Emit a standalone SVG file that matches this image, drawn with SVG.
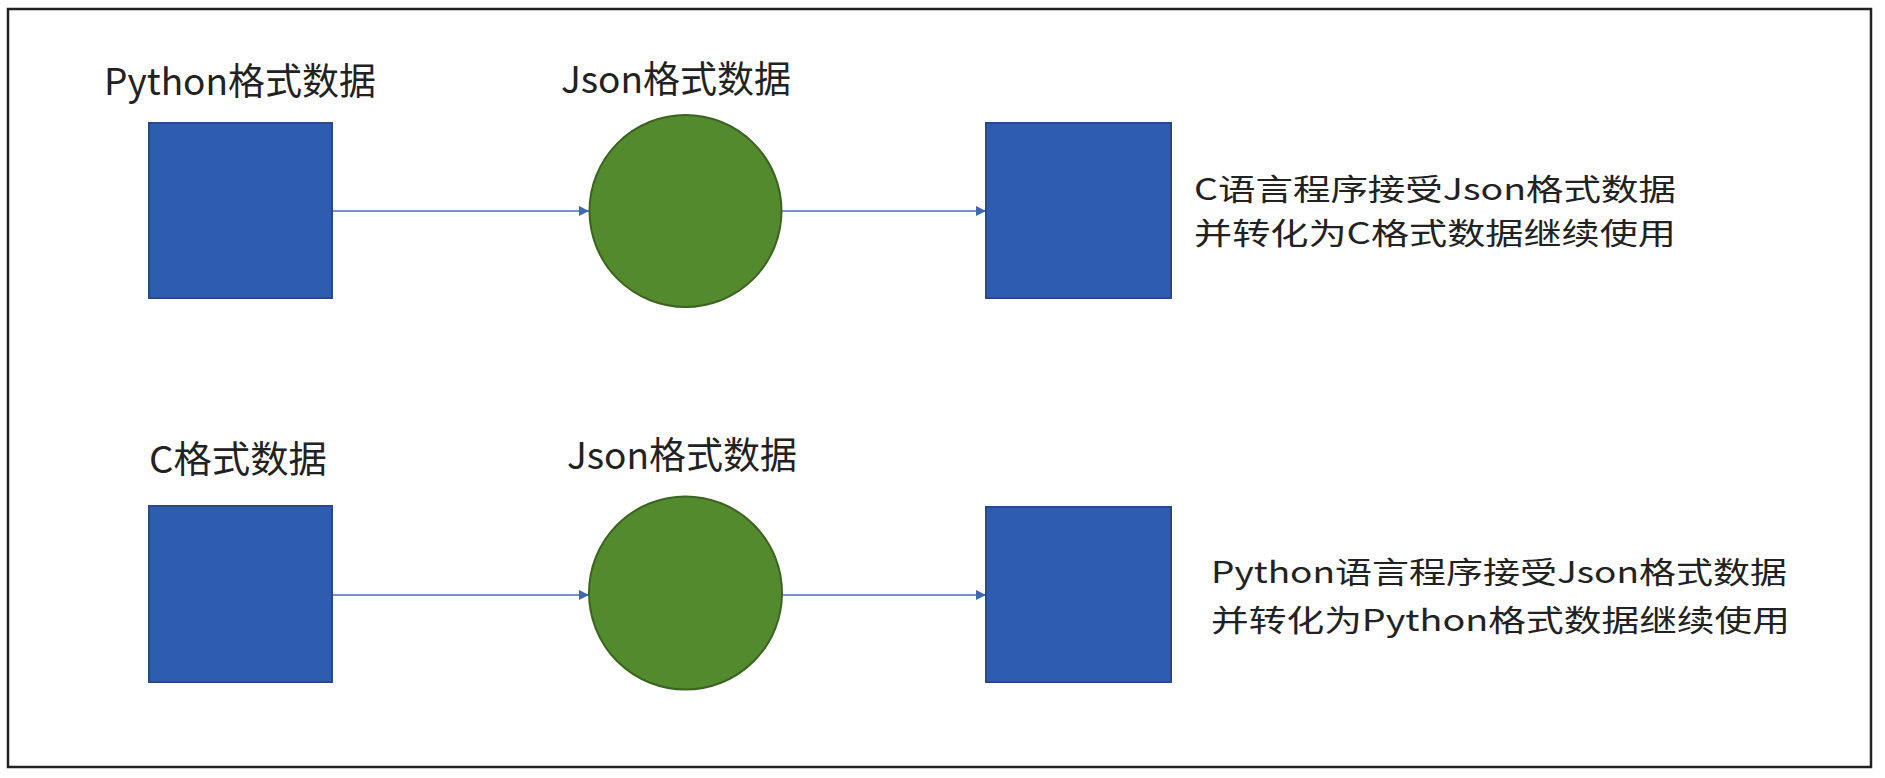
<svg xmlns="http://www.w3.org/2000/svg" width="1885" height="778" viewBox="0 0 1885 778">
  <defs>
    <marker id="arrow" viewBox="0 0 10 10" refX="10" refY="5" markerWidth="10" markerHeight="10" markerUnits="userSpaceOnUse" orient="auto">
      <path d="M0,0 L10,5 L0,10 z" fill="#3F66B0"/>
    </marker>
    <style>
      .box { fill: #2E5DB0; stroke: #284A88; stroke-width: 2; }
      .circ { fill: #548A2E; stroke: #3B6420; stroke-width: 2; }
      .lbl { font-family: "Noto Sans CJK SC", "Noto Sans", sans-serif; font-size: 37px; fill: #222222; }
      .desc { font-family: "Noto Sans CJK SC", "Noto Sans", sans-serif; font-size: 30px; fill: #222222; }
      .conn { stroke: #4A70B8; stroke-width: 1.6; fill: none; marker-end: url(#arrow); }
    </style>
  </defs>
  <rect x="0" y="0" width="1885" height="778" fill="#ffffff"/>
  <rect x="8" y="9" width="1863" height="758" fill="#ffffff" stroke="#222222" stroke-width="2.5"/>

  <g id="connectors">
    <line class="conn" x1="333" y1="211" x2="589" y2="211"/>
    <line class="conn" x1="782" y1="211" x2="986" y2="211"/>
    <line class="conn" x1="333" y1="595" x2="589" y2="595"/>
    <line class="conn" x1="782" y1="595" x2="986" y2="595"/>
  </g>

  <g id="python-data">
    <text class="lbl" x="104" y="95">Python格式数据</text>
    <rect class="box" x="149" y="123" width="183" height="175"/>
  </g>
  <g id="json-data-top">
    <text class="lbl" x="561" y="93">Json格式数据</text>
    <circle class="circ" cx="685.5" cy="211" r="96"/>
  </g>
  <g id="c-program">
    <rect class="box" x="986" y="123" width="185" height="175"/>
    <text class="desc" x="1194" y="200" textLength="482" lengthAdjust="spacingAndGlyphs">C语言程序接受Json格式数据</text>
    <text class="desc" x="1194" y="244" textLength="482" lengthAdjust="spacingAndGlyphs">并转化为C格式数据继续使用</text>
  </g>

  <g id="c-data">
    <text class="lbl" x="149" y="473" textLength="178" lengthAdjust="spacingAndGlyphs">C格式数据</text>
    <rect class="box" x="149" y="506" width="183" height="176"/>
  </g>
  <g id="json-data-bottom">
    <text class="lbl" x="567" y="469">Json格式数据</text>
    <circle class="circ" cx="685.5" cy="593" r="96.5"/>
  </g>
  <g id="python-program">
    <rect class="box" x="986" y="507" width="185" height="175"/>
    <text class="desc" x="1211" y="583" textLength="576" lengthAdjust="spacingAndGlyphs">Python语言程序接受Json格式数据</text>
    <text class="desc" x="1211" y="631" textLength="579" lengthAdjust="spacingAndGlyphs">并转化为Python格式数据继续使用</text>
  </g>
</svg>
